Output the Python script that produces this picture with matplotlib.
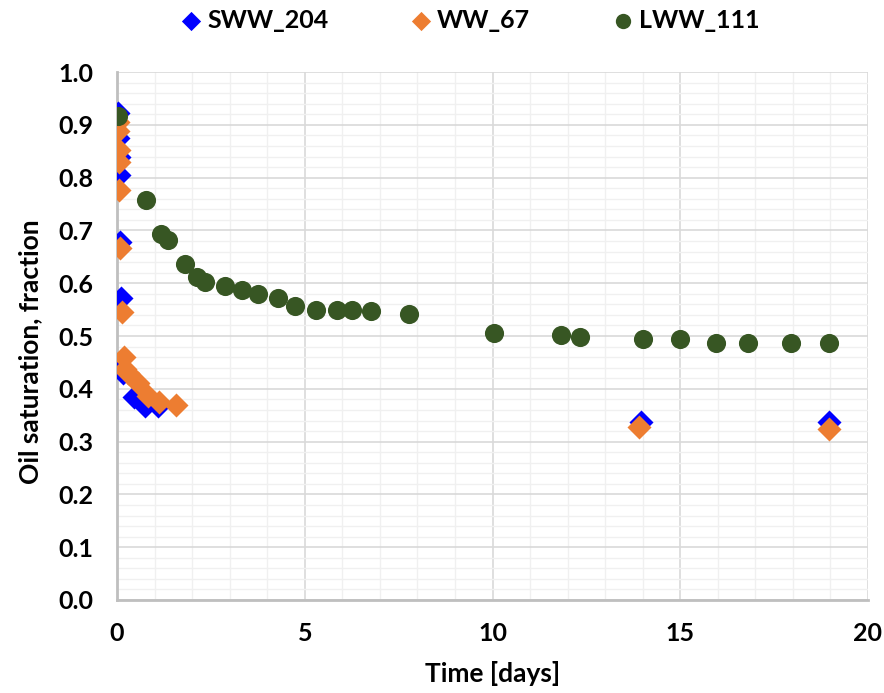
import numpy as np
import matplotlib
matplotlib.use('Agg')
import matplotlib.pyplot as plt
from matplotlib.ticker import MultipleLocator

plt.rcParams['font.family'] = ['Lato', 'DejaVu Sans']
plt.rcParams['font.weight'] = 'bold'

# SWW_204 (blue diamonds)
sww_t = [0.02, 0.03, 0.04, 0.05, 0.08, 0.11, 0.05, 0.15, 0.45, 0.75, 1.1, 13.95, 18.95]
sww_s = [0.922, 0.875, 0.839, 0.805, 0.678, 0.572, 0.445, 0.430, 0.385, 0.368, 0.368, 0.337, 0.337]

# WW_67 (orange diamonds)
ww_t = [0.02, 0.03, 0.04, 0.05, 0.06, 0.08, 0.12, 0.18, 0.22, 0.3, 0.55, 0.82, 1.13, 1.57, 13.9, 18.95]
ww_s = [0.905, 0.888, 0.852, 0.830, 0.777, 0.667, 0.545, 0.460, 0.437, 0.430, 0.411, 0.387, 0.375, 0.369, 0.328, 0.324]

# LWW_111 (green circles)
lww_t = [0.02, 0.77, 1.16, 1.35, 1.8, 2.14, 2.35, 2.88, 3.33, 3.76, 4.29, 4.74, 5.29, 5.85, 6.27,
         6.77, 7.78, 10.03, 11.82, 12.33, 14.02, 15.0, 15.95, 16.8, 17.95, 18.97]
lww_s = [0.917, 0.758, 0.693, 0.682, 0.636, 0.612, 0.602, 0.594, 0.588, 0.580, 0.572, 0.557, 0.549,
         0.549, 0.549, 0.547, 0.542, 0.506, 0.502, 0.498, 0.495, 0.495, 0.487, 0.487, 0.487, 0.487]

fig = plt.figure(figsize=(8.84, 6.93), dpi=100)
ax = fig.add_axes([0.1324, 0.1342, 0.8495, 0.7618])

ax.scatter(sww_t, sww_s, marker='D', s=150, color='#0000FF', label='SWW_204', zorder=3, linewidths=0)
ax.scatter(ww_t, ww_s, marker='D', s=150, color='#ED7D31', label='WW_67', zorder=4, linewidths=0)
ax.scatter(lww_t, lww_s, marker='o', s=190, color='#375623', label='LWW_111', zorder=5, linewidths=0)

ax.set_xlim(0, 20)
ax.set_ylim(0, 1.0)
ax.xaxis.set_major_locator(MultipleLocator(5))
ax.xaxis.set_minor_locator(MultipleLocator(1))
ax.yaxis.set_major_locator(MultipleLocator(0.1))
ax.yaxis.set_minor_locator(MultipleLocator(0.02))
ax.yaxis.set_major_formatter(matplotlib.ticker.FormatStrFormatter('%.1f'))

ax.grid(which='major', color='#d9d9d9', linewidth=1.2, zorder=0)
ax.grid(which='minor', color='#f0f0f0', linewidth=1.0, zorder=0)
ax.set_axisbelow(True)

for side in ['top', 'right']:
    ax.spines[side].set_visible(False)
ax.spines['left'].set_color('#bfbfbf')
ax.spines['left'].set_linewidth(2)
ax.spines['bottom'].set_color('#bfbfbf')
ax.spines['bottom'].set_linewidth(2)

ax.tick_params(which='both', length=0, labelsize=18)
ax.tick_params(axis='y', pad=17)
ax.tick_params(axis='x', pad=16)
for lab in ax.get_xticklabels() + ax.get_yticklabels():
    lab.set_fontweight('bold')

ax.set_xlabel('Time [days]', fontsize=19, fontweight='bold')
ax.set_ylabel('Oil saturation, fraction', fontsize=19, fontweight='bold')
ax.xaxis.set_label_coords(0.5, -0.115)
ax.yaxis.set_label_coords(-0.100, 0.47)

leg = fig.legend(loc='center', bbox_to_anchor=(0.532, 0.971), ncol=3, frameon=False,
                 prop={'size': 18, 'weight': 'bold'}, markerscale=0.8,
                 handlelength=0.8, handletextpad=0.25, columnspacing=3.3)

fig.savefig('out.png', dpi=100)
